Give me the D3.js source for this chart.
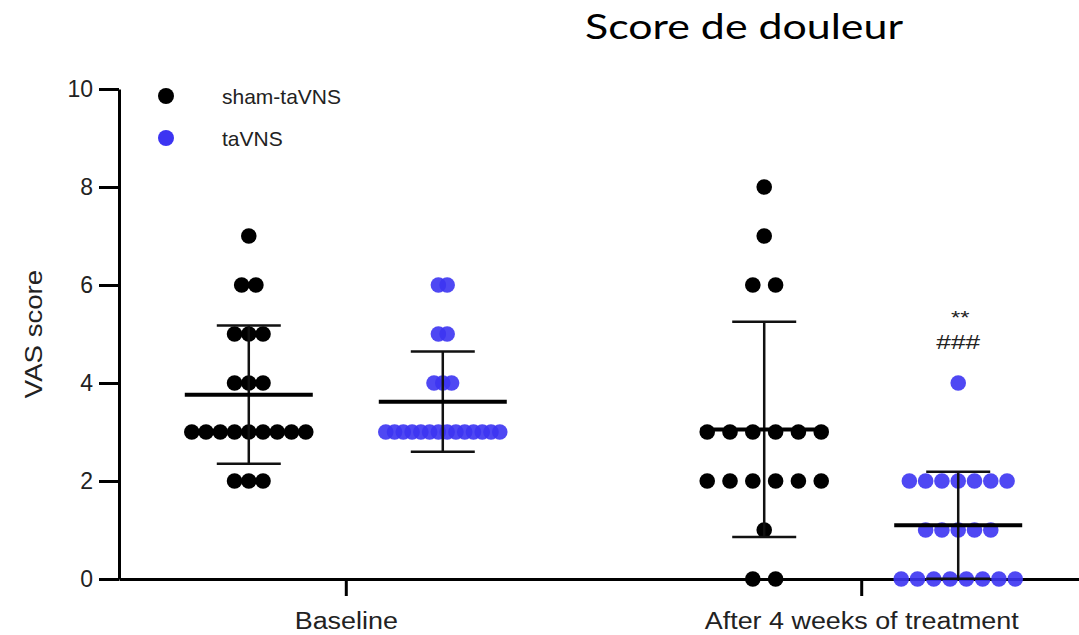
<!DOCTYPE html>
<html>
<head>
<meta charset="utf-8">
<script src="https://cdn.jsdelivr.net/npm/d3@7"></script>
<style>
  body { margin: 0; background: #fff; }
  svg { display: block; }
</style>
</head>
<body>
<div class="chart"></div>
<script>
// data
const categories = ["Baseline", "After 4 weeks of treatment"];
const seriesNames = ["sham-taVNS", "taVNS"];
const seriesColors = ["#000000", "#3c34f2"];

const shamBaseline = [7, 6, 6, 5, 5, 5, 4, 4, 4, 3, 3, 3, 3, 3, 3, 3, 3, 3, 2, 2, 2];
const tavnsBaseline = [6, 6, 5, 5, 4, 4, 4, 3, 3, 3, 3, 3, 3, 3, 3, 3, 3, 3, 3, 3, 3];
const shamAfter = [8, 7, 6, 6, 3, 3, 3, 3, 3, 3, 2, 2, 2, 2, 2, 2, 1, 0, 0];
const tavnsAfter = [4, 2, 2, 2, 2, 2, 2, 2, 1, 1, 1, 1, 1, 0, 0, 0, 0, 0, 0, 0, 0];

const yTicks = [0, 2, 4, 6, 8, 10];
const significance = ["**", "###"];

const groups = [
    { cat: categories[0], series: 0, values: shamBaseline },
    { cat: categories[0], series: 1, values: tavnsBaseline },
    { cat: categories[1], series: 0, values: shamAfter },
    { cat: categories[1], series: 1, values: tavnsAfter }
];

drawChart();

function drawChart() {
    const width = 1079;
    const height = 635;
    const groupOffset = 97;
    const spread = 114;
    const dotR = 7.8;
    const meanHalf = 64;
    const capHalf = 32;
    const textColor = "#222";

    const svg = d3.select(".chart")
        .append("svg")
        .attr("width", width)
        .attr("height", height)
        .style("font-family", "'Liberation Sans', Arial, sans-serif");

    const x = d3.scalePoint()
        .domain(categories)
        .range([119, 1088])
        .padding(0.44);

    const y = d3.scaleLinear()
        .domain([0, 10])
        .range([579, 89]);

    // title
    svg.append("text")
        .attr("x", 585)
        .attr("y", 39)
        .attr("textLength", 318)
        .attr("lengthAdjust", "spacingAndGlyphs")
        .style("font-family", "Lato, 'Open Sans', sans-serif")
        .style("font-size", "34px")
        .style("fill", "#000")
        .text("Score de douleur");

    // y axis
    const yAxis = svg.append("g")
        .attr("transform", "translate(119,0)")
        .call(d3.axisLeft(y).tickValues(yTicks).tickSize(20).tickSizeOuter(0).tickPadding(6));
    yAxis.select(".domain").attr("stroke", "#000").attr("stroke-width", 3);
    yAxis.selectAll(".tick line").attr("stroke", "#000").attr("stroke-width", 3);
    yAxis.selectAll(".tick text")
        .style("font-size", "23px")
        .style("font-family", "'Liberation Sans', Arial, sans-serif")
        .attr("fill", textColor);

    // x axis
    const xAxis = svg.append("g")
        .attr("transform", "translate(0," + y(0) + ")")
        .call(d3.axisBottom(x).tickSize(17).tickSizeOuter(0));
    xAxis.select(".domain").attr("stroke", "#000").attr("stroke-width", 3);
    xAxis.selectAll(".tick line").attr("stroke", "#000").attr("stroke-width", 3);
    xAxis.selectAll(".tick text")
        .attr("y", 50)
        .attr("dy", 0)
        .attr("transform", "scale(1.17,1)")
        .style("font-size", "23px")
        .style("font-family", "'Liberation Sans', Arial, sans-serif")
        .attr("fill", textColor);

    // y axis title
    svg.append("text")
        .attr("transform", "translate(42," + (y(0) + y(10)) / 2 + ") rotate(-90) scale(1.2,1)")
        .attr("text-anchor", "middle")
        .style("font-size", "23px")
        .attr("fill", textColor)
        .text("VAS score");

    // dots, rows spread around each group centre
    groups.forEach(g => {
        const cx = x(g.cat) + (g.series === 0 ? -groupOffset : groupOffset);
        const rows = d3.rollup(g.values, v => v.length, d => d);
        const maxCount = d3.max(Array.from(rows.values()));
        const step = spread / (maxCount - 1);
        const pts = [];
        rows.forEach((n, v) => {
            for (let i = 0; i < n; i++) {
                pts.push({ x: cx + (i - (n - 1) / 2) * step, v: v });
            }
        });
        g.cx = cx;
        svg.append("g")
            .selectAll("circle")
            .data(pts)
            .enter()
            .append("circle")
            .attr("cx", d => d.x)
            .attr("cy", d => y(d.v))
            .attr("r", dotR)
            .attr("fill", seriesColors[g.series])
            .attr("fill-opacity", g.series === 0 ? 1 : 0.9);
    });

    // mean and SD bars on top
    groups.forEach(g => {
        const m = d3.mean(g.values);
        const sd = d3.deviation(g.values);
        const lo = Math.max(0, m - sd);
        const hi = m + sd;
        const bar = svg.append("g").attr("stroke", "#111");
        bar.append("line")
            .attr("x1", g.cx).attr("x2", g.cx)
            .attr("y1", y(lo)).attr("y2", y(hi))
            .attr("stroke-width", 2.5);
        [lo, hi].forEach(v => {
            bar.append("line")
                .attr("x1", g.cx - capHalf).attr("x2", g.cx + capHalf)
                .attr("y1", y(v)).attr("y2", y(v))
                .attr("stroke-width", 2.5);
        });
        bar.append("line")
            .attr("x1", g.cx - meanHalf).attr("x2", g.cx + meanHalf)
            .attr("y1", y(m)).attr("y2", y(m))
            .attr("stroke", "#000")
            .attr("stroke-width", 4);
    });

    // significance marks above tavns after treatment
    const sigX = groups[3].cx;
    svg.append("text")
        .attr("transform", "translate(" + (sigX + 2) + ",324) scale(1.25,1)")
        .attr("text-anchor", "middle")
        .style("font-size", "19px")
        .attr("fill", textColor)
        .text(significance[0]);
    svg.append("text")
        .attr("transform", "translate(" + sigX + ",349) scale(1.25,1)")
        .attr("text-anchor", "middle")
        .style("font-size", "21px")
        .attr("fill", textColor)
        .text(significance[1]);

    // legend
    const legend = svg.append("g");
    seriesNames.forEach((name, i) => {
        legend.append("circle")
            .attr("cx", 166)
            .attr("cy", 96 + i * 42)
            .attr("r", 8)
            .attr("fill", seriesColors[i]);
        legend.append("text")
            .attr("x", 222)
            .attr("y", 104 + i * 42)
            .style("font-size", "21px")
            .attr("fill", textColor)
            .text(name);
    });
}
</script>
</body>
</html>
